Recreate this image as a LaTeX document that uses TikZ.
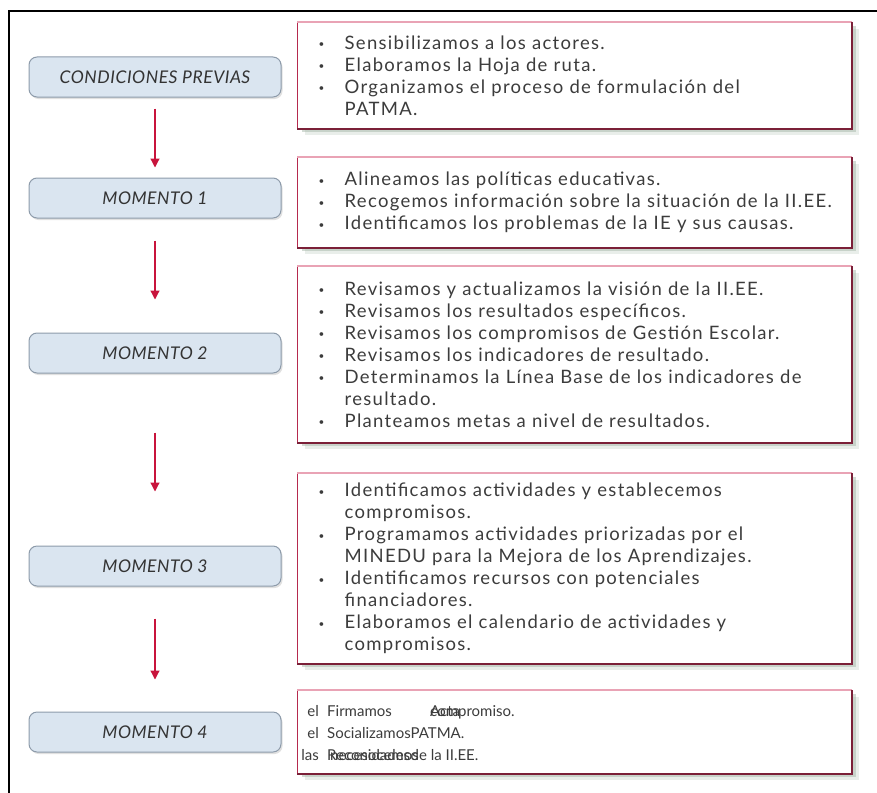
\documentclass[tikz,border=0pt]{standalone}
\usepackage{fontspec}
\setmainfont{Lato}
\newfontfamily\listfont[LetterSpace=7]{Lato}
\newfontfamily\stagefont[LetterSpace=3]{Lato}
\usetikzlibrary{arrows.meta,shadows}

\definecolor{arrowred}{HTML}{C8143C}
\definecolor{edgeleft}{HTML}{B52A4E}
\definecolor{edgetop}{HTML}{E9A3B5}
\definecolor{edgedark}{HTML}{7B2038}
\definecolor{shadowc}{HTML}{9DB0A0}
\definecolor{stepfill}{HTML}{DAE5F0}
\definecolor{stepedge}{HTML}{8D9BAA}
\definecolor{txt}{HTML}{3C3C3C}
\definecolor{stagetxt}{HTML}{333333}

% bullet column and hanging indent for the task lists
\newcommand\bul{\makebox[26pt][l]{\raisebox{1.5pt}{\fontsize{10}{10}\selectfont\textbullet}}}
\newcommand\cont{\hspace*{26pt}}

\tikzset{
  stagebox/.style={draw=stepedge, line width=1pt, fill=stepfill, rounded corners=8pt,
    minimum width=252pt, minimum height=40pt, inner sep=0pt,
    font=\stagefont\fontsize{17.5}{20}\selectfont\itshape, text=stagetxt,
    drop shadow={shadow xshift=1.5pt, shadow yshift=-2pt, fill=black, opacity=0.12}},
  taskbox/.style={fill=white, draw=edgeleft, line width=1.4pt, anchor=north west,
    minimum width=554pt, text width=512pt, inner xsep=21pt, inner ysep=0pt, align=left,
    font=\listfont\fontsize{18.5}{22}\selectfont, text=txt,
    drop shadow={shadow xshift=7pt, shadow yshift=-6pt, fill=shadowc, opacity=0.22},
    drop shadow={shadow xshift=4pt, shadow yshift=-3.5pt, fill=shadowc, opacity=0.45}},
  flow/.style={draw=arrowred, line width=1.2pt, -{Triangle[width=9pt,length=9pt]}},
  topedge/.style={draw=edgetop, line width=1.4pt},
  darkedge/.style={draw=edgedark, line width=2pt},
  frag/.style={inner sep=0pt, font=\fontsize{15}{18}\selectfont, text=txt}
}

\begin{document}
\begin{tikzpicture}[x=1pt,y=-1pt]
\useasboundingbox (0,0) rectangle (877,792);

% outer frame (left and top edges run to the page border)
\draw[black, line width=1.5pt] (9,793) -- (9,11) -- (878,11);

% stages
\node[stagebox] (cp) at (155,77)  {CONDICIONES PREVIAS};
\node[stagebox] (m1) at (155,198) {MOMENTO 1};
\node[stagebox] (m2) at (155,353) {MOMENTO 2};
\node[stagebox] (m3) at (155,566) {MOMENTO 3};
\node[stagebox] (m4) at (155,732) {MOMENTO 4};

% flow arrows
\draw[flow, shorten <=11pt, shorten >=10pt] (cp.south) -- (m1.north);
\draw[flow, shorten <=22pt, shorten >=33pt] (m1.south) -- (m2.north);
\draw[flow, shorten <=59pt, shorten >=54pt] (m2.south) -- (m3.north);
\draw[flow, shorten <=32pt, shorten >=32pt] (m3.south) -- (m4.north);

% task lists
\node[taskbox, minimum height=106pt] (t1) at (297,22) {%
\bul Sensibilizamos a los actores.\\
\bul Elaboramos la Hoja de ruta.\\
\bul Organizamos el proceso de formulación del\\
\cont PATMA.};

\node[taskbox, minimum height=90pt] (t2) at (297,157) {%
\bul Alineamos las políticas educativas.\\
\bul Recogemos información sobre la situación de la II.EE.\\
\bul Identificamos los problemas de la IE y sus causas.};

\node[taskbox, minimum height=176pt] (t3) at (297,266) {%
\bul Revisamos y actualizamos la visión de la II.EE.\\
\bul Revisamos los resultados específicos.\\
\bul Revisamos los compromisos de Gestión Escolar.\\
\bul Revisamos los indicadores de resultado.\\
\bul Determinamos la Línea Base de los indicadores de\\
\cont resultado.\\
\bul Planteamos metas a nivel de resultados.};

\node[taskbox, minimum height=190pt] (t4) at (297,473) {%
\bul Identificamos actividades y establecemos\\
\cont compromisos.\\
\bul Programamos actividades priorizadas por el\\
\cont MINEDU para la Mejora de los Aprendizajes.\\
\bul Identificamos recursos con potenciales\\
\cont financiadores.\\
\bul Elaboramos el calendario de actividades y\\
\cont compromisos.};

\node[taskbox, minimum height=83pt] (t5) at (297,690) {};

% edge shading of the task boxes
\foreach \b in {t1,t2,t3,t4,t5}{
  \draw[topedge] (\b.north west) -- (\b.north east);
  \draw[darkedge] (\b.north east) -- (\b.south east) -- (\b.south west);
}

% overlapping text fragments in the last box
\node[frag, anchor=base east] (f1a) at (319,716) {el};
\node[frag, anchor=base west] (f1b) at (327,716) {Firmamos};
\node[frag, anchor=base west] (f1c) at (430,716) {compromiso.};
\node[frag, anchor=base west] (f1d) at (430,716) {Acta};
\node[frag, anchor=base east] (f2a) at (319,738) {el};
\node[frag, anchor=base west] (f2b) at (327,738) {SocializamosPATMA.};
\node[frag, anchor=base east] (f3a) at (319,760) {las};
\node[frag, anchor=base west] (f3b) at (327,760) {Reconocemos};
\node[frag, anchor=base west] (f3c) at (330,760) {necesidades};
\node[frag, anchor=base west] (f3d) at (f3c.base east) {de la II.EE.};
\end{tikzpicture}
\end{document}
